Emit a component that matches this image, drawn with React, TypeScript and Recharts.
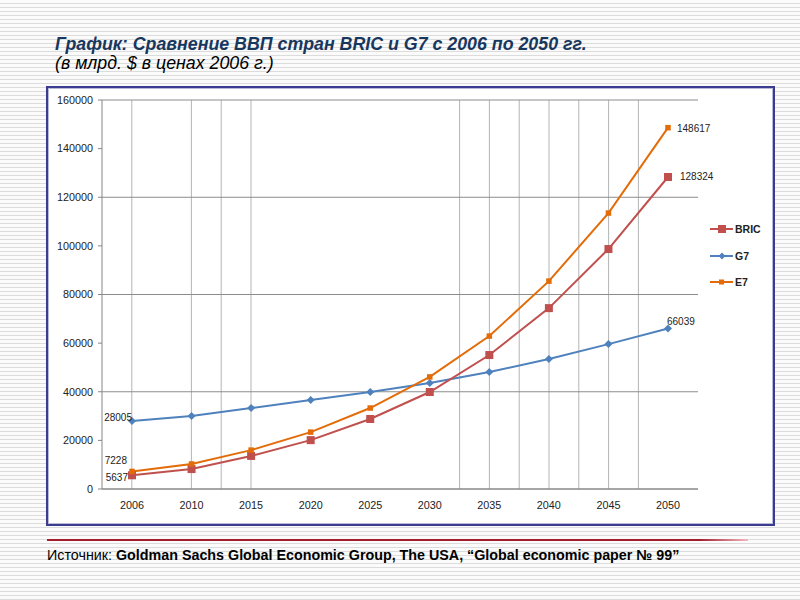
import React from 'react';
import { LineChart, Line, XAxis, YAxis, CartesianGrid, LabelList } from 'recharts';

const years = ['2006', '2010', '2015', '2020', '2025', '2030', '2035', '2040', '2045', '2050'];
const bric = [5637, 8200, 13600, 20100, 28800, 39900, 55100, 74400, 98700, 128324];
const g7 = [28005, 30000, 33300, 36600, 39900, 43600, 48100, 53500, 59600, 66039];
const e7 = [7228, 10300, 16000, 23400, 33300, 46100, 62900, 85500, 113500, 148617];
const yTicks = [0, 20000, 40000, 60000, 80000, 100000, 120000, 140000, 160000];
const yGridValues = [0, 40000, 80000, 120000, 160000];
const vGridSteps = [1, 3, 4, 5, 12, 13, 14, 15, 16, 17, 18]; // in twentieths of the category axis

const data = years.map((y, i) => ({ year: y, BRIC: bric[i], G7: g7[i], E7: e7[i] }));

const C_BRIC = '#C0504D';
const C_G7 = '#4F81BD';
const C_E7 = '#E36C09';
const FONT = '"Liberation Sans", Arial, sans-serif';

const squareDot = (size: number, color: string) => (props: any) => {
  const { cx, cy, index } = props;
  if (cx == null || cy == null) return <g key={index} />;
  return <rect key={index} x={cx - size / 2} y={cy - size / 2} width={size} height={size} fill={color} />;
};

const diamondDot = (size: number, color: string) => (props: any) => {
  const { cx, cy, index } = props;
  if (cx == null || cy == null) return <g key={index} />;
  const h = size / 2;
  return (
    <polygon
      key={index}
      points={`${cx},${cy - h} ${cx + h},${cy} ${cx},${cy + h} ${cx - h},${cy}`}
      fill={color}
    />
  );
};

const endLabel = (
  first: { dx: number; dy: number } | null,
  last: { dx: number; dy: number } | null
) => (props: any) => {
  const { x, y, value, index } = props;
  const n = years.length;
  let cfg: { dx: number; dy: number } | null = null;
  let anchor: 'start' | 'end' = 'start';
  if (index === 0 && first) {
    cfg = first;
    anchor = 'end';
  } else if (index === n - 1 && last) {
    cfg = last;
    anchor = 'start';
  }
  if (!cfg) return null;
  return (
    <text
      x={x + cfg.dx}
      y={y + cfg.dy}
      textAnchor={anchor}
      fontSize={10}
      fontFamily={FONT}
      fill="#222"
    >
      {value}
    </text>
  );
};

const LegendItem = ({ label, color, marker, top }: any) => (
  <div style={{ position: 'absolute', left: 710, top: top - 8, height: 16, display: 'flex', alignItems: 'center' }}>
    <svg width={24} height={16}>
      <line x1={0} y1={8} x2={23} y2={8} stroke={color} strokeWidth={2} />
      {marker === 'bigsquare' && <rect x={8} y={4} width={8} height={8} fill={color} />}
      {marker === 'square' && <rect x={9} y={5.5} width={5} height={5} fill={color} />}
      {marker === 'diamond' && <polygon points="12,4.5 15.5,8 12,11.5 8.5,8" fill={color} />}
    </svg>
    <span style={{ fontFamily: FONT, fontWeight: 'bold', fontSize: 10.5, color: '#222', marginLeft: 1 }}>{label}</span>
  </div>
);

export default function App() {
  return (
    <div
      style={{
        position: 'absolute',
        left: 0,
        top: 0,
        width: 800,
        height: 600,
        overflow: 'hidden',
        background: 'repeating-linear-gradient(to bottom, #fbfbfb 0px, #fbfbfb 3px, #dcdcdc 3px, #dcdcdc 4px)',
      }}
    >
      <div
        style={{
          position: 'absolute',
          left: 55,
          top: 33,
          fontFamily: FONT,
          fontWeight: 'bold',
          fontStyle: 'italic',
          fontSize: 17.8,
          color: '#17375E',
          whiteSpace: 'nowrap',
          lineHeight: '22px',
        }}
      >
        График: Сравнение ВВП стран BRIC и G7 с 2006 по 2050 гг.
      </div>
      <div
        style={{
          position: 'absolute',
          left: 55,
          top: 52,
          fontFamily: FONT,
          fontStyle: 'italic',
          fontSize: 17.8,
          color: '#000',
          whiteSpace: 'nowrap',
          lineHeight: '22px',
        }}
      >
        (в млрд. $ в ценах 2006 г.)
      </div>

      <div
        style={{
          position: 'absolute',
          left: 46,
          top: 86,
          width: 725,
          height: 436,
          background: '#ffffff',
          border: '2px solid #3B3B8F',
          boxShadow: 'inset 0 0 0 1px #B8B8D8',
        }}
      />

      <LineChart
        width={800}
        height={600}
        data={data}
        margin={{ top: 100, right: 102, bottom: 81, left: 52 }}
        style={{ position: 'absolute', left: 0, top: 0 }}
      >
        <CartesianGrid
          horizontal={false}
          vertical={true}
          stroke="#B4B4B4"
          strokeWidth={1}
          verticalCoordinatesGenerator={({ offset }: any) =>
            vGridSteps.map((k) => offset.left + (offset.width * k) / 20)
          }
        />
        <CartesianGrid
          horizontal={true}
          vertical={false}
          stroke="#8C8C8C"
          strokeWidth={1}
          horizontalCoordinatesGenerator={({ offset }: any) =>
            yGridValues.map((v) => offset.top + offset.height * (1 - v / 160000))
          }
        />
        <XAxis
          dataKey="year"
          height={30}
          padding={{ left: 30, right: 30 }}
          axisLine={{ stroke: '#868686' }}
          tickLine={false}
          tickSize={0}
          tickMargin={12}
          interval={0}
          tick={{ fontSize: 10.8, fill: '#222', fontFamily: FONT }}
        />
        <YAxis
          width={50}
          domain={[0, 160000]}
          ticks={yTicks}
          interval={0}
          axisLine={{ stroke: '#868686' }}
          tickLine={{ stroke: '#868686' }}
          tickSize={4}
          tickMargin={5}
          tick={{ fontSize: 10.8, fill: '#222', fontFamily: FONT }}
        />
        <Line
          type="linear"
          dataKey="G7"
          stroke={C_G7}
          strokeWidth={2}
          dot={diamondDot(8, C_G7)}
          activeDot={false}
          isAnimationActive={false}
        >
          <LabelList dataKey="G7" content={endLabel({ dx: 0, dy: 0 }, { dx: -1, dy: -3 })} />
        </Line>
        <Line
          type="linear"
          dataKey="BRIC"
          stroke={C_BRIC}
          strokeWidth={2}
          dot={squareDot(8, C_BRIC)}
          activeDot={false}
          isAnimationActive={false}
        >
          <LabelList dataKey="BRIC" content={endLabel({ dx: -4, dy: 6 }, { dx: 12, dy: 3 })} />
        </Line>
        <Line
          type="linear"
          dataKey="E7"
          stroke={C_E7}
          strokeWidth={2}
          dot={squareDot(5.5, C_E7)}
          activeDot={false}
          isAnimationActive={false}
        >
          <LabelList dataKey="E7" content={endLabel({ dx: -5, dy: -7 }, { dx: 9, dy: 4 })} />
        </Line>
      </LineChart>

      <LegendItem label="BRIC" color={C_BRIC} marker="bigsquare" top={229} />
      <LegendItem label="G7" color={C_G7} marker="diamond" top={256} />
      <LegendItem label="E7" color={C_E7} marker="square" top={282} />

      <div
        style={{
          position: 'absolute',
          left: 47,
          top: 539,
          width: 701,
          height: 2,
          background: 'linear-gradient(to right, #A01E2E 0%, #A01E2E 93%, #F2B8C0 100%)',
        }}
      />
      <div
        style={{
          position: 'absolute',
          left: 47,
          top: 546,
          fontFamily: FONT,
          fontSize: 14.3,
          color: '#000',
          whiteSpace: 'nowrap',
          lineHeight: '18px',
        }}
      >
        Источник: <span style={{ fontWeight: 'bold' }}>Goldman Sachs Global Economic Group, The USA, “Global economic paper № 99”</span>
      </div>
    </div>
  );
}
